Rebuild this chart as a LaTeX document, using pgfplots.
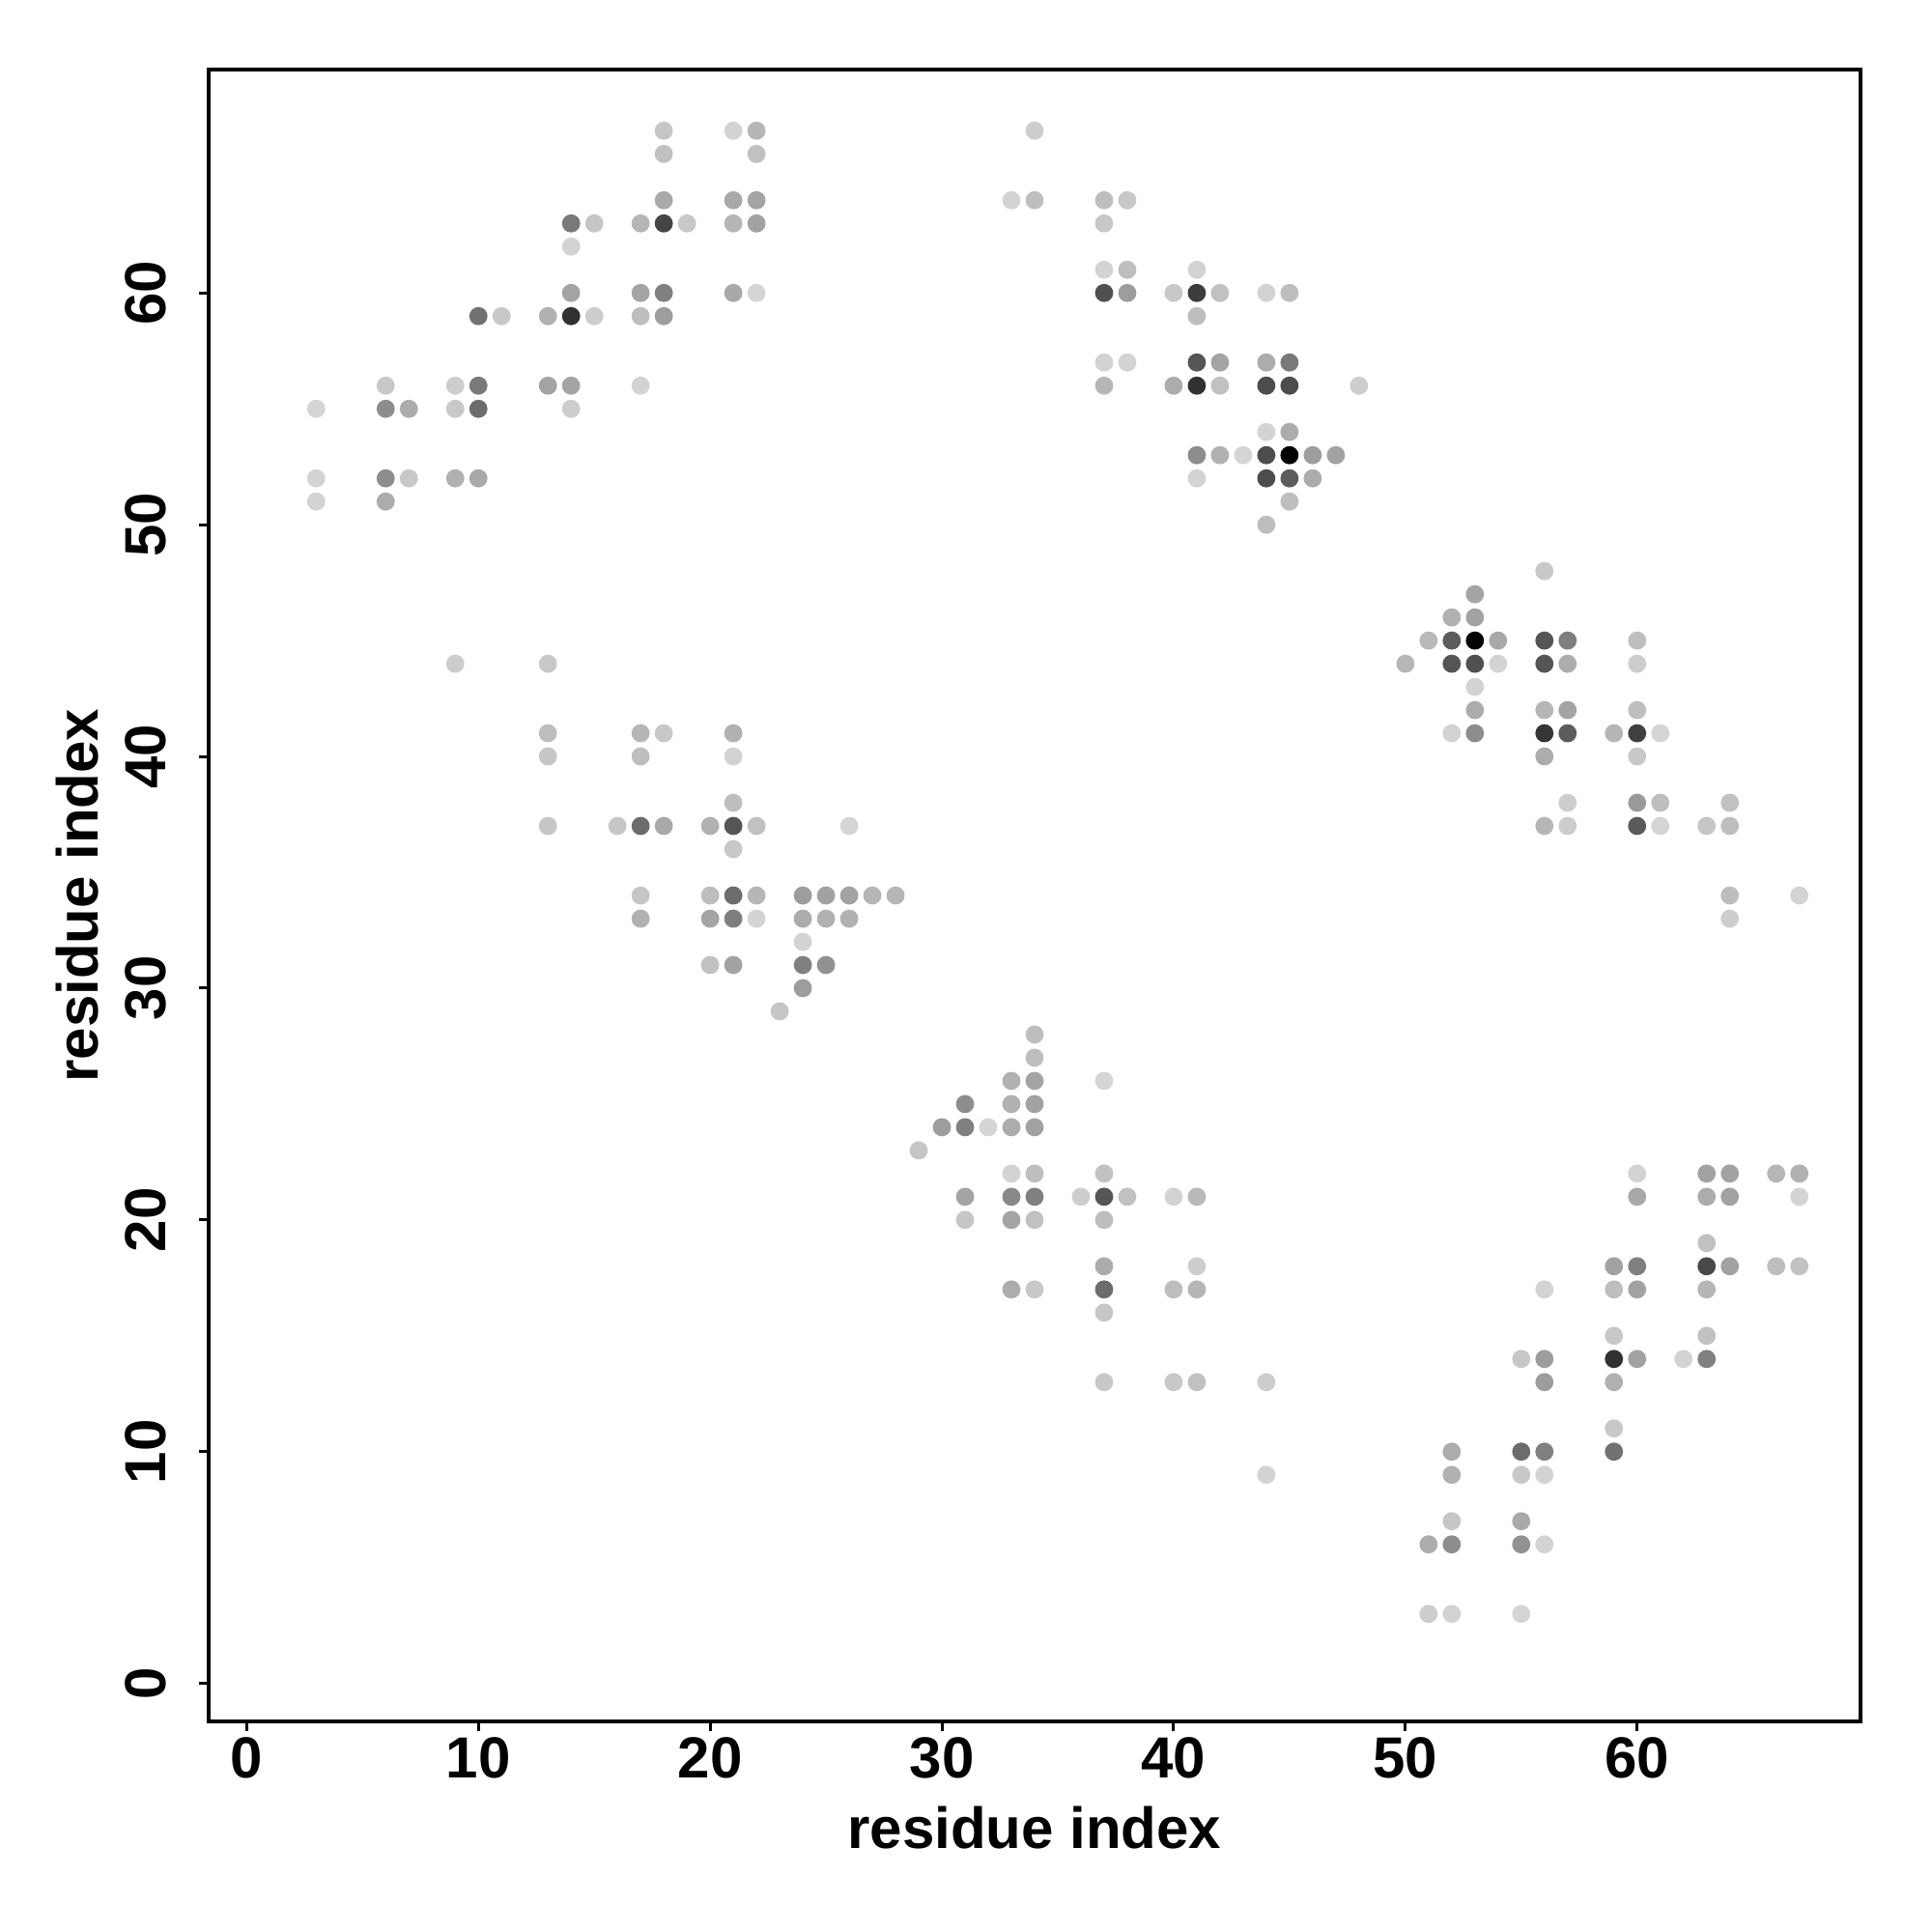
\documentclass[border=0pt]{standalone}
\usepackage{fontspec}
\setmainfont{Liberation Sans}
\usepackage{pgfplots}
\usepackage{pgfplotstable}
\pgfplotsset{compat=1.18}
\pgfplotstableread{
x y g
18 67 0.77
21 67 0.82
22 67 0.71
18 66 0.75
22 66 0.75
18 64 0.66
21 64 0.66
22 64 0.64
14 63 0.47
15 63 0.77
17 63 0.71
18 63 0.27
19 63 0.78
21 63 0.71
22 63 0.63
14 62 0.82
14 60 0.64
17 60 0.64
18 60 0.50
21 60 0.66
22 60 0.83
10 59 0.44
11 59 0.78
13 59 0.69
14 59 0.19
15 59 0.80
17 59 0.74
18 59 0.61
6 56 0.78
9 56 0.80
10 56 0.47
13 56 0.64
14 56 0.64
17 56 0.82
3 55 0.83
6 55 0.55
7 55 0.67
9 55 0.78
10 55 0.42
14 55 0.80
3 52 0.82
6 52 0.55
7 52 0.78
9 52 0.69
10 52 0.66
3 51 0.82
6 51 0.67
9 44 0.80
13 44 0.78
13 41 0.74
17 41 0.71
18 41 0.78
21 41 0.69
13 40 0.77
17 40 0.74
21 40 0.82
21 38 0.74
13 37 0.77
16 37 0.77
17 37 0.42
18 37 0.66
20 37 0.69
21 37 0.33
22 37 0.75
26 37 0.83
21 36 0.78
17 34 0.77
20 34 0.74
21 34 0.42
22 34 0.71
24 34 0.61
25 34 0.63
26 34 0.63
27 34 0.71
28 34 0.71
17 33 0.69
20 33 0.64
21 33 0.49
22 33 0.82
24 33 0.67
25 33 0.69
26 33 0.69
24 32 0.82
20 31 0.75
21 31 0.63
24 31 0.50
25 31 0.565
24 30 0.61
23 29 0.77
34 28 0.74
34 27 0.74
33 26 0.69
34 26 0.64
37 26 0.83
31 25 0.55
33 25 0.69
34 25 0.63
30 24 0.61
31 24 0.50
32 24 0.83
33 24 0.67
34 24 0.63
29 23 0.77
33 22 0.82
34 22 0.74
37 22 0.75
31 21 0.64
33 21 0.53
34 21 0.50
36 21 0.80
37 21 0.33
38 21 0.75
40 21 0.82
41 21 0.72
31 20 0.77
33 20 0.64
34 20 0.75
37 20 0.74
37 18 0.67
41 18 0.80
33 17 0.67
34 17 0.78
37 17 0.42
40 17 0.74
41 17 0.71
37 16 0.77
37 13 0.78
40 13 0.78
41 13 0.75
44 13 0.80
44 9 0.82
34 67 0.80
33 64 0.82
34 64 0.74
37 64 0.74
38 64 0.78
37 63 0.78
37 61 0.82
38 61 0.74
41 61 0.82
37 60 0.31
38 60 0.61
40 60 0.78
41 60 0.235
42 60 0.75
44 60 0.82
45 60 0.74
41 59 0.74
37 57 0.82
38 57 0.82
41 57 0.33
42 57 0.64
44 57 0.67
45 57 0.47
37 56 0.71
40 56 0.67
41 56 0.19
42 56 0.75
44 56 0.30
45 56 0.30
48 56 0.80
44 54 0.82
45 54 0.67
41 53 0.55
42 53 0.69
43 53 0.83
44 53 0.30
45 53 0.0
46 53 0.61
47 53 0.63
41 52 0.82
44 52 0.30
45 52 0.36
46 52 0.67
45 51 0.74
44 50 0.74
56 48 0.78
53 47 0.64
52 46 0.69
53 46 0.63
51 45 0.72
52 45 0.36
53 45 0.02
54 45 0.66
56 45 0.33
57 45 0.49
60 45 0.74
50 44 0.71
52 44 0.33
53 44 0.31
54 44 0.82
56 44 0.33
57 44 0.67
60 44 0.80
53 43 0.82
53 42 0.67
56 42 0.71
57 42 0.64
60 42 0.74
52 41 0.82
53 41 0.55
56 41 0.21
57 41 0.36
59 41 0.71
60 41 0.25
61 41 0.83
56 40 0.67
60 40 0.78
57 38 0.80
60 38 0.60
61 38 0.74
64 38 0.75
56 37 0.71
57 37 0.80
60 37 0.35
61 37 0.83
63 37 0.77
64 37 0.74
64 34 0.74
67 34 0.82
64 33 0.80
60 22 0.82
63 22 0.63
64 22 0.63
66 22 0.71
67 22 0.69
60 21 0.66
63 21 0.67
64 21 0.63
67 21 0.82
63 19 0.75
59 18 0.63
60 18 0.50
63 18 0.28
64 18 0.63
66 18 0.74
67 18 0.75
56 17 0.82
59 17 0.74
60 17 0.63
63 17 0.71
59 15 0.78
63 15 0.75
55 14 0.78
56 14 0.61
59 14 0.19
60 14 0.63
62 14 0.82
63 14 0.50
56 13 0.61
59 13 0.69
59 11 0.78
52 10 0.67
55 10 0.42
56 10 0.50
59 10 0.44
52 9 0.69
55 9 0.78
56 9 0.82
52 7 0.77
55 7 0.66
51 6 0.67
52 6 0.55
55 6 0.565
56 6 0.82
51 3 0.80
52 3 0.82
55 3 0.83
}\contacts
\begin{document}
\begin{tikzpicture}
\path[use as bounding box] (-54bp,-54.5bp) rectangle (446bp,445.5bp);
\begin{axis}[
  at={(0,0)}, anchor=south west,
  scale only axis, width=427.5bp, height=427.5bp,
  xmin=-1.64, xmax=69.64, ymin=-1.64, ymax=69.64,
  xtick={0,10,...,60}, ytick={0,10,...,60},
  xtick pos=bottom, ytick pos=left,
  tick align=outside, major tick length=2.5bp,
  tick style={line width=0.75bp, black},
  axis line style={line width=1bp},
  /pgf/number format/assume math mode=true,
  ticklabel style={font=\fontsize{15bp}{18bp}\selectfont\bfseries},
  xticklabel style={anchor=base, yshift=-12bp},
  yticklabel style={xshift=-8.75bp, rotate=90, anchor=base},
  xlabel={residue index}, ylabel={residue index},
  label style={font=\fontsize{15bp}{18bp}\selectfont\bfseries},
  xlabel style={at={(axis description cs:0.5,-0.0767)}, anchor=base},
  ylabel style={at={(axis description cs:-0.0667,0.5)}, anchor=base},
  colormap={bw}{gray(0cm)=(0); gray(1cm)=(1)},
  point meta min=0, point meta max=1,
]
\addplot[scatter, only marks, mark=*, mark size=2.15bp,
  scatter/use mapped color={draw=mapped color, fill=mapped color},
  point meta=\thisrow{g}] table[x=x, y=y] {\contacts};
\end{axis}
\end{tikzpicture}
\end{document}
